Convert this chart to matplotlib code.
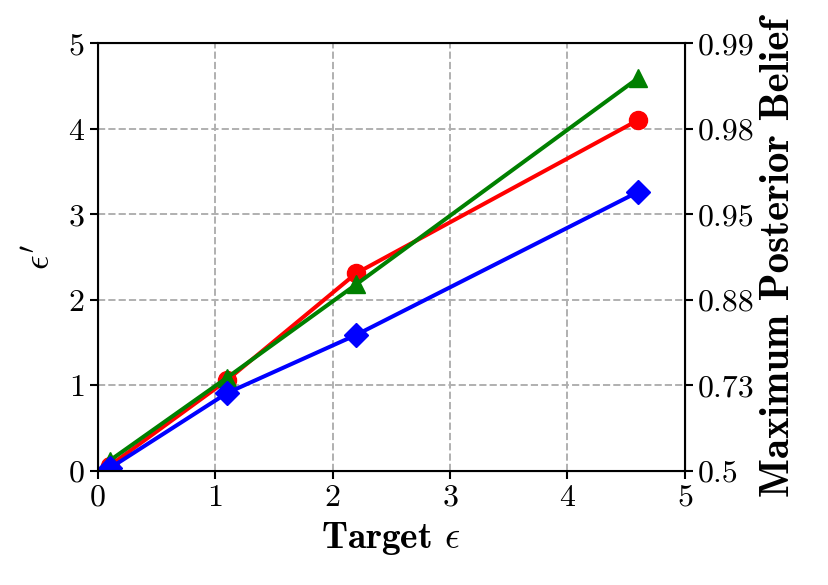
import numpy as np
import matplotlib.pyplot as plt

plt.rcParams['font.family'] = 'serif'
plt.rcParams['font.serif'] = ['cmr10']
plt.rcParams['mathtext.fontset'] = 'cm'
plt.rcParams['axes.formatter.use_mathtext'] = True

target_eps = [0.1, 1.1, 2.2, 4.6]
eps_red = [0.06, 1.06, 2.31, 4.10]
eps_green = [0.12, 1.09, 2.18, 4.59]
eps_blue = [0.03, 0.91, 1.59, 3.26]

left_ticks = [0, 1, 2, 3, 4, 5]
right_labels = ['0.5', '0.73', '0.88', '0.95', '0.98', '0.99']

fig = plt.figure(figsize=(8.29, 5.85), dpi=100)
ax = fig.add_axes([0.118, 0.195, 0.708, 0.731])

ax.plot(target_eps, eps_red, color='red', marker='o', lw=2.9, ms=13)
ax.plot(target_eps, eps_green, color='green', marker='^', lw=2.9, ms=13)
ax.plot(target_eps, eps_blue, color='blue', marker='D', lw=2.9, ms=12)

ax.set_xlim(0, 5)
ax.set_ylim(0, 5)
ax.set_xticks(left_ticks)
ax.set_yticks(left_ticks)
ax.grid(True, linestyle='--', color='#b0b0b0', lw=1.4)
ax.tick_params(labelsize=23, width=1.5, length=6)
for s in ax.spines.values():
    s.set_linewidth(1.5)

ax.set_xlabel(r'Target $\epsilon$', fontsize=27, family='cmb10', labelpad=6)
ax.set_ylabel(r"$\epsilon'$", fontsize=26, labelpad=8)

ax2 = ax.twinx()
ax2.set_ylim(0, 5)
ax2.set_yticks(left_ticks)
ax2.set_yticklabels(right_labels)
ax2.tick_params(labelsize=23, width=1.5, length=6)
ax2.set_ylabel('Maximum Posterior Belief', fontsize=29.5, family='cmb10', labelpad=4)

fig.savefig('out.png', dpi=100)
